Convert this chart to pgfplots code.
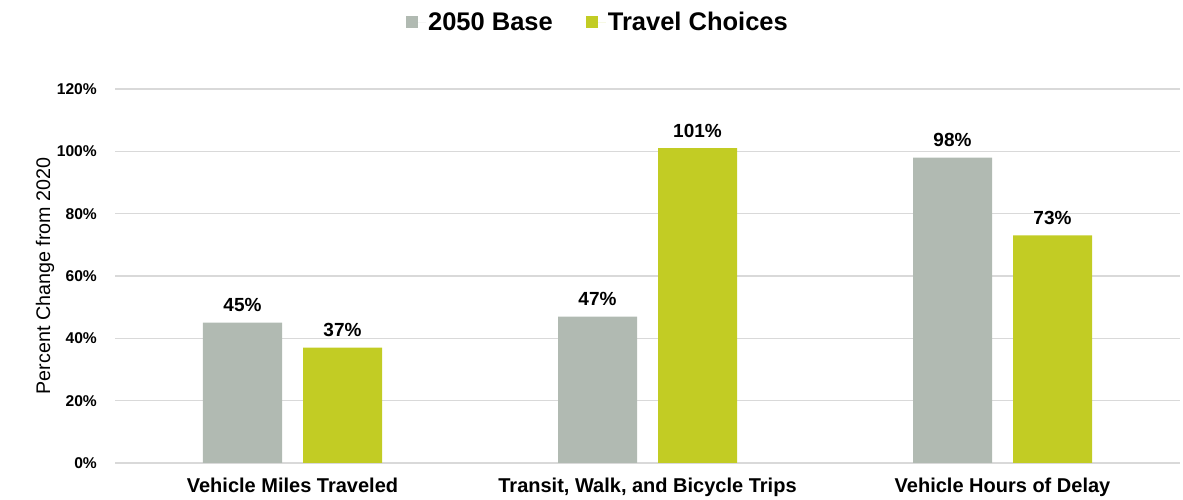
\documentclass[border=0pt]{standalone}
\usepackage{pgfplots}
\pgfplotsset{compat=1.18}
\usepackage{fontspec}
\setmainfont{Liberation Sans}
\definecolor{basegray}{RGB}{177,186,178}
\definecolor{tcgreen}{RGB}{194,204,36}
\definecolor{gridgray}{RGB}{217,217,217}
\begin{document}
\begin{tikzpicture}
\useasboundingbox (0,0) rectangle (1183pt,500pt);
\begin{axis}[
  at={(115pt,37pt)}, anchor=south west,
  scale only axis, width=1065pt, height=374pt,
  xmin=-0.5, xmax=2.5, ymin=0, ymax=120,
  xtick={0,1,2},
  xticklabels={Vehicle Miles Traveled, {Transit, Walk, and Bicycle Trips}, Vehicle Hours of Delay},
  ytick={0,20,...,120},
  yticklabel={\pgfmathprintnumber[assume math mode=true]{\tick}\%},
  major tick length=0pt,
  axis line style={draw=none},
  ymajorgrids, major grid style={gridgray, line width=1.5pt},
  xticklabel style={font=\fontsize{20}{24}\selectfont\bfseries, anchor=base, inner sep=0pt, yshift=-30pt},
  yticklabel style={font=\fontsize{15.6}{18}\selectfont\bfseries, anchor=east, inner sep=0pt, xshift=-18pt},
  ylabel={Percent Change from 2020},
  ylabel style={font=\fontsize{19.7}{23}\selectfont, at={(axis description cs:-0.0657,0.5)}, anchor=center},
  ybar, bar width=79pt,
  nodes near coords={\pgfmathprintnumber[assume math mode=true]{\pgfplotspointmeta}\%},
  nodes near coords style={font=\fontsize{19}{22}\selectfont\bfseries, anchor=base, inner sep=0pt, yshift=11pt},
  legend columns=2,
  legend style={draw=none, fill=none, at={(axis description cs:0.4535,1.179)}, anchor=center,
    font=\fontsize{25.5}{30}\selectfont\bfseries, inner sep=0pt,
    /tikz/every even column/.append style={column sep=31pt}},
  legend image code/.code={\fill[#1] (0pt,-6pt) rectangle (12pt,6pt); \path (0pt,0pt) -- (20pt,0pt);},
  legend cell align=left,
  clip=false,
]
\addplot[bar shift=-50pt, fill=basegray, draw=none] coordinates {(0,45) (1,47) (2,98)};
\addplot[bar shift=50pt, fill=tcgreen, draw=none] coordinates {(0,37) (1,101) (2,73)};
\legend{2050 Base, Travel Choices}
\end{axis}
\end{tikzpicture}
\end{document}
